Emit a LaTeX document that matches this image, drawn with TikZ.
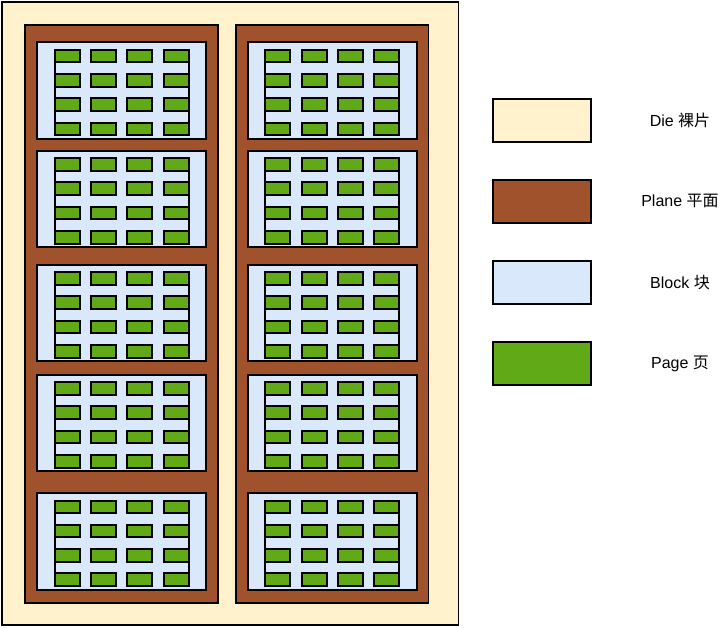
\documentclass[tikz,border=0pt]{standalone}
\usepackage{fontspec}
\setmainfont{Liberation Sans}
\newfontfamily\cjk{Noto Sans CJK SC}
\definecolor{diefill}{HTML}{FFF2CC}
\definecolor{planefill}{HTML}{A0522D}
\definecolor{blockfill}{HTML}{DAE8FC}
\definecolor{pagefill}{HTML}{60A917}
\begin{document}
\begin{tikzpicture}[x=1pt, y=-1pt,
    box/.style={rectangle, draw=black, inner sep=0pt, outer sep=0pt, anchor=north west},
    diebox/.style={box, fill=diefill, line width=1.5pt},
    planebox/.style={box, fill=planefill, line width=1.8pt},
    blockbox/.style={box, fill=blockfill, line width=2pt, minimum width=169.5pt, minimum height=96.8pt},
    pagebox/.style={box, fill=pagefill, line width=2pt, minimum width=25pt, minimum height=12.6pt},
    keybox/.style={box, line width=1.8pt, minimum width=97.7pt, minimum height=42.8pt},
    keytext/.style={font=\fontsize{16}{19}\selectfont, anchor=center}]
  \useasboundingbox (0,0) rectangle (720,627);
  \node[diebox, minimum width=456.5pt, minimum height=623pt] (die) at (2,2) {};
  % two planes, five blocks each, 4x4 pages per block
  \foreach \px [count=\i] in {25,235.7} {
    \node[planebox, minimum width=192.8pt, minimum height=577.7pt] (plane\i) at (\px,25) {};
    \foreach \by [count=\j] in {42.3,150.6,264.6,374.5,493} {
      \node[blockbox] (block\i\j) at (\px+11.8,\by) {};
      \foreach \r in {0,...,3}
        \foreach \c in {0,...,3}
          \node[pagebox] (page\i\j\r\c) at (\px+29.6+36.3*\c,\by+7.5+24.3*\r) {};
      \draw[line width=2pt] (page\i\j00.north west) -- (page\i\j30.south west);
      \draw[line width=2pt] (page\i\j03.north east) -- (page\i\j33.south east);
    }
  }
  % legend
  \foreach \fc/\txt [count=\k from 0] in {diefill/{Die {\cjk 裸片}}, planefill/{Plane {\cjk 平面}},
      blockfill/{Block {\cjk 块}}, pagefill/{Page {\cjk 页}}} {
    \node[keybox, fill=\fc] (key\k) at (493.3,99+81*\k) {};
    \node[keytext] (keylabel\k) at (680,120.4+81*\k) {\txt};
  }
\end{tikzpicture}
\end{document}
